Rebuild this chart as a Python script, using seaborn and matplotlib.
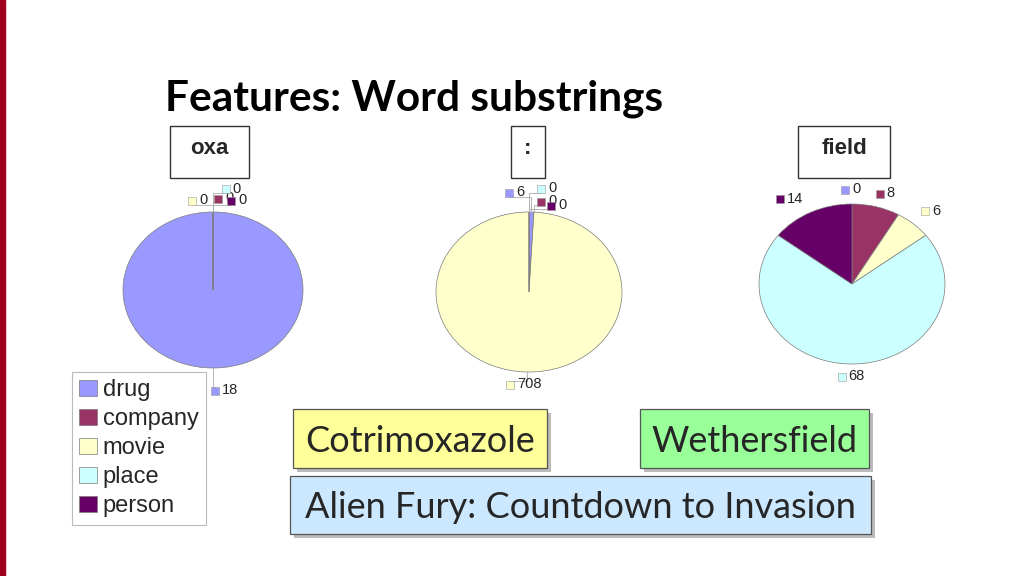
import numpy as np
import seaborn as sns
import matplotlib.pyplot as plt
from matplotlib.patches import Rectangle

# data
categories = ['drug', 'company', 'movie', 'place', 'person']
pie_titles = ['oxa', ':', 'field']
oxa_counts = [18, 0, 0, 0, 0]
colon_counts = [6, 0, 708, 0, 0]
field_counts = [0, 8, 6, 68, 14]
example_words = ['Cotrimoxazole', 'Wethersfield', 'Alien Fury: Countdown to Invasion']

colors = sns.color_palette(['#9999FF', '#993366', '#FFFFCC', '#CCFFFF', '#660066'])

sns.set_theme(style='white')
plt.rcParams['font.family'] = ['Liberation Sans', 'DejaVu Sans']

W, H = 1024, 576
fig = plt.figure(figsize=(W / 100, H / 100), dpi=100)
fig.patch.set_facecolor('white')


def px_box(x0, y0, x1, y1):
    # pixel box (top-left origin) -> figure fraction rect
    return [x0 / W, 1 - y1 / H, (x1 - x0) / W, (y1 - y0) / H]


# red bar on the left edge
fig.add_artist(Rectangle((0, 0), 5 / W, 1, transform=fig.transFigure,
                         color='#A0001C', zorder=5))

# slide title
fig.text(165 / W, 1 - 110 / H, 'Features: Word substrings', family='Lato',
         weight='bold', fontsize=30.5, color='black', va='baseline')

# pie layout: center x, center y, half width, half height (pixels)
pie_geom = [(213, 290, 90, 78), (529, 292, 93, 80), (852, 284, 93, 80)]
# label square positions in radius units, one per category
label_pos = [
    [(0.02, -1.29), (0.06, 1.17), (-0.23, 1.14), (0.14, 1.29), (0.20, 1.14)],
    [(-0.215, 1.24), (0.13, 1.13), (-0.20, -1.16), (0.13, 1.29), (0.24, 1.08)],
    [(-0.075, 1.175), (0.30, 1.125), (0.785, 0.91), (-0.11, -1.16), (-0.77, 1.06)],
]
leaders = [True, True, False]
title_boxes = [(170, 126, 249, 178), (511, 126, 545, 178), (798, 126, 890, 178)]

all_counts = [oxa_counts, colon_counts, field_counts]
wedges_ref = None
for i, counts in enumerate(all_counts):
    cx, cy, hw, hh = pie_geom[i]
    ax = fig.add_axes(px_box(cx - hw, cy - hh, cx + hw, cy + hh))
    wedges, _ = ax.pie(counts, colors=colors, startangle=90, counterclock=False,
                       wedgeprops=dict(edgecolor='#7a7a7a', linewidth=0.5))
    if wedges_ref is None:
        wedges_ref = wedges
    ax.set_aspect('auto')
    ax.set_xlim(-1, 1)
    ax.set_ylim(-1, 1)
    ax.axis('off')
    for j, (w, v) in enumerate(zip(wedges, counts)):
        lx, ly = label_pos[i][j]
        if leaders[i]:
            ang = np.deg2rad((w.theta1 + w.theta2) / 2)
            ex, ey = np.cos(ang), np.sin(ang)
            ax.plot([ex, ex, lx], [ey, ly * 0.96, ly * 0.96], color='#AAAAAA',
                    lw=0.6, clip_on=False, zorder=1)
        ax.scatter([lx], [ly], marker='s', s=32, color=colors[j],
                   edgecolor='#999999', linewidth=0.4, clip_on=False, zorder=4)
        ax.annotate(str(v), (lx, ly), xytext=(5, 0.5), textcoords='offset points',
                    va='center', ha='left', fontsize=10.5, annotation_clip=False)

    # box with the substring above each pie
    bx0, by0, bx1, by1 = title_boxes[i]
    fig.add_artist(Rectangle((bx0 / W, 1 - by1 / H), (bx1 - bx0) / W, (by1 - by0) / H,
                             transform=fig.transFigure, facecolor='white',
                             edgecolor='#333333', linewidth=1.0))
    fig.text((bx0 + bx1) / 2 / W, 1 - 148 / H, pie_titles[i], ha='center',
             va='center', fontsize=16, weight='bold')

# legend
leg = fig.legend(wedges_ref, categories, loc='upper left',
                 bbox_to_anchor=(72 / W, 1 - 372 / H), fontsize=17,
                 frameon=True, fancybox=False, framealpha=1, edgecolor='#BBBBBB',
                 handlelength=0.75, handleheight=0.65, handletextpad=0.25,
                 labelspacing=0.3, borderpad=0.3, borderaxespad=0)
leg.get_frame().set_linewidth(0.8)

# example word boxes at the bottom
word_boxes = [(293, 409, 547, 468), (640, 409, 869, 468), (290, 476, 871, 534)]
word_fill = ['#FFFF99', '#99FF99', '#CCE8FF']
for (x0, y0, x1, y1), word, fc in zip(word_boxes, example_words, word_fill):
    fig.add_artist(Rectangle(((x0 + 4) / W, 1 - (y1 + 4) / H), (x1 - x0) / W,
                             (y1 - y0) / H, transform=fig.transFigure,
                             facecolor='#BBBBBB', edgecolor='none', zorder=2))
    fig.add_artist(Rectangle((x0 / W, 1 - y1 / H), (x1 - x0) / W, (y1 - y0) / H,
                             transform=fig.transFigure, facecolor=fc,
                             edgecolor='#555555', linewidth=0.9, zorder=3))
    fig.text((x0 + x1) / 2 / W, 1 - (y0 + y1) / 2 / H - 3 / H, word, ha='center',
             va='center', family='Lato', fontsize=26, zorder=4)

fig.savefig('out.png', dpi=100)
